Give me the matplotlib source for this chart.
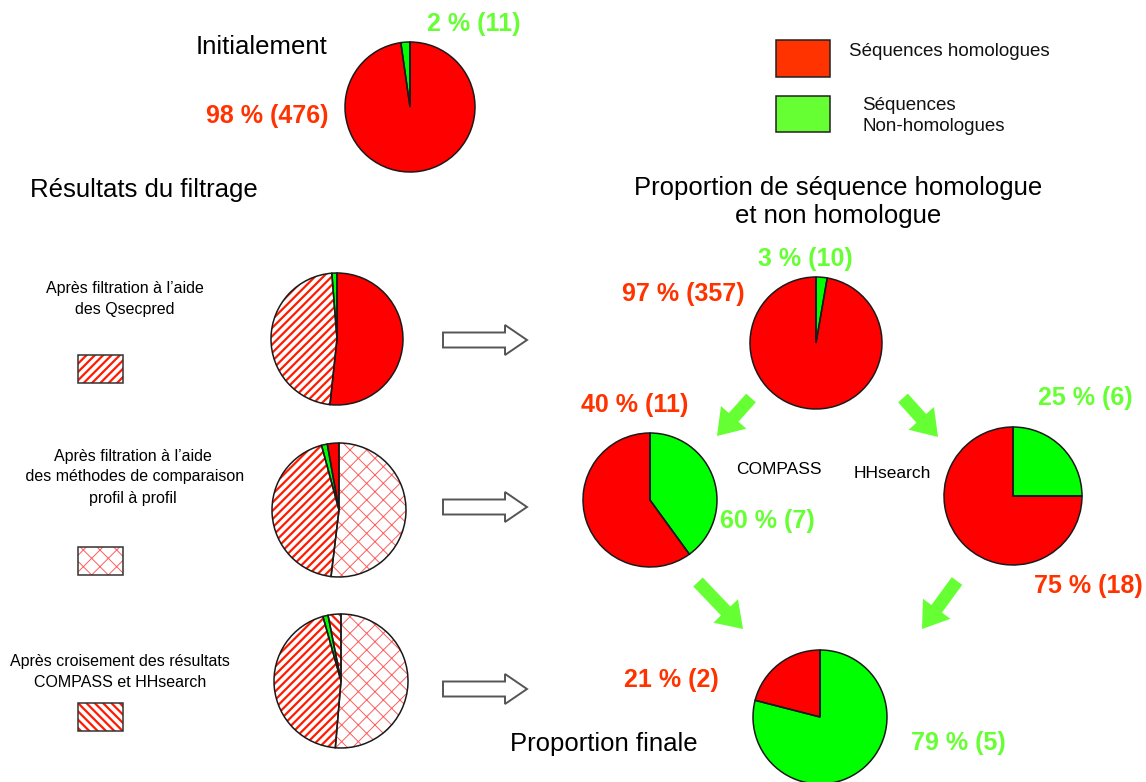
import matplotlib
matplotlib.use("Agg")
import matplotlib.pyplot as plt
from matplotlib.patches import Rectangle, FancyArrow

# ---------------- data ----------------
initial_values = [11, 476]                 # green, red (ccw from top)
initial_styles = ['green', 'red']
initial_labels = ['2 % (11)', '98 % (476)']

qsec_values = [51.7, 47.05, 1.25]          # clockwise from top
qsec_styles = ['red', 'fwd', 'green']

profile_values = [2.8, 1.4, 43.9, 51.9]    # ccw from top
profile_styles = ['red', 'green', 'fwd', 'cross']

cross_values = [3.1, 1.25, 44.3, 51.35]    # ccw from top
cross_styles = ['back', 'green', 'fwd', 'cross']

top_values = [10, 357]                     # green, red (clockwise)
top_labels = ['3 % (10)', '97 % (357)']

compass_values = [40, 60]                  # green, red (clockwise)
compass_labels = ['40 % (11)', '60 % (7)']

hhsearch_values = [25, 75]                 # green, red (clockwise)
hhsearch_labels = ['25 % (6)', '75 % (18)']

final_values = [21, 79]                    # red, green (ccw)
final_labels = ['21 % (2)', '79 % (5)']

legend_labels = ['Séquences homologues', 'Séquences\nNon-homologues']
step_labels = ["Après filtration à l’aide\ndes Qsecpred",
               "Après filtration à l’aide\n des méthodes de comparaison\nprofil à profil",
               "Après croisement des résultats\nCOMPASS et HHsearch"]

# ---------------- style ----------------
W, H = 1146, 782
plt.rcParams['font.family'] = ['Liberation Sans', 'DejaVu Sans']
plt.rcParams['hatch.linewidth'] = 1.6

RED = '#ff0000'
GREEN = '#00ff00'
LRED = '#ff3300'
LGREEN = '#66ff33'
HRED = '#ff1a00'
XRED = '#ff5c5c'

fig = plt.figure(figsize=(W / 100, H / 100), dpi=100)
ax = fig.add_axes([0, 0, 1, 1])


def Y(py):
    return H - py


def style_patch(p, st):
    if st == 'red':
        p.set_facecolor(RED); p.set_edgecolor(RED)
    elif st == 'green':
        p.set_facecolor(GREEN); p.set_edgecolor(GREEN)
    elif st in ('fwd', 'back'):
        p.set_facecolor('white'); p.set_edgecolor(HRED)
        p.set_hatch('////' if st == 'fwd' else '\\\\\\\\')
    elif st == 'cross':
        p.set_facecolor('white'); p.set_edgecolor(XRED)
        p.set_hatch('xx')
        if hasattr(p, 'set_hatch_linewidth'):
            p.set_hatch_linewidth(0.7)
    p.set_linewidth(0)


def draw_pie(values, styles, cx, cy, r, counterclock):
    wedges, _ = ax.pie(values, center=(cx, Y(cy)), radius=r, startangle=90,
                       counterclock=counterclock, frame=True,
                       wedgeprops=dict(linewidth=0))
    for w, st in zip(wedges, styles):
        style_patch(w, st)
    ax.pie(values, center=(cx, Y(cy)), radius=r, startangle=90,
           counterclock=counterclock, frame=True,
           wedgeprops=dict(facecolor='none', edgecolor='#1a1a1a', linewidth=1.1))


# pies
draw_pie(initial_values, initial_styles, 410, 107, 65, True)
draw_pie(qsec_values, qsec_styles, 337, 339, 66, False)
draw_pie(profile_values, profile_styles, 339, 510, 67, True)
draw_pie(cross_values, cross_styles, 341, 681, 67, True)
draw_pie(top_values, ['green', 'red'], 816, 343, 66, False)
draw_pie(compass_values, ['green', 'red'], 650, 500, 67, False)
draw_pie(hhsearch_values, ['green', 'red'], 1013, 496, 69, False)
draw_pie(final_values, ['red', 'green'], 820, 717, 67, True)

# hatched legend boxes on the left
for (bx, by), st in zip([(78, 355), (78, 547), (78, 703)], ['fwd', 'cross', 'back']):
    rect = Rectangle((bx, Y(by + 28)), 45, 28)
    style_patch(rect, st)
    ax.add_patch(rect)
    ax.add_patch(Rectangle((bx, Y(by + 28)), 45, 28, fc='none', ec='#333333', lw=1.1))

# colour legend top right
ax.add_patch(Rectangle((776, Y(77)), 54, 37, fc=LRED, ec='#222222', lw=1.1))
ax.add_patch(Rectangle((776, Y(132)), 54, 36, fc=LGREEN, ec='#222222', lw=1.1))
ax.text(849, Y(51), legend_labels[0], fontsize=13.5, ha='left', va='center', color='#111111')
ax.text(862, Y(116), legend_labels[1], fontsize=13.5, ha='left', va='center',
        color='#111111', linespacing=1.25)

# hollow arrows
for ay in [340, 507, 689]:
    ax.add_patch(FancyArrow(443, Y(ay), 84, 0, width=15, head_width=30, head_length=22,
                            length_includes_head=True, fc='white', ec='#555555', lw=1.4))

# green arrows
for (tx, ty), (hx, hy) in [((751, 398), (717, 436)), ((903, 398), (938, 437)),
                           ((698, 582), (743, 629)), ((957, 581), (922, 629))]:
    ax.add_patch(FancyArrow(tx, Y(ty), hx - tx, -(hy - ty), width=13, head_width=34,
                            head_length=25, length_includes_head=True, fc=LGREEN, lw=0))

# titles
ax.text(262, Y(47), 'Initialement', fontsize=18.5, ha='center', va='center')
ax.text(144, Y(190), 'Résultats du filtrage', fontsize=18.5, ha='center', va='center')
ax.text(838, Y(202), 'Proportion de séquence homologue\net non homologue', fontsize=18.5,
        ha='center', va='center', linespacing=1.2)
ax.text(604, Y(744), 'Proportion finale', fontsize=18.5, ha='center', va='center')
ax.text(779, Y(470), 'COMPASS', fontsize=12.5, ha='center', va='center')
ax.text(892, Y(473), 'HHsearch', fontsize=12.5, ha='center', va='center')

# left step texts
ax.text(125, Y(299), step_labels[0], fontsize=11.5, ha='center', va='center', linespacing=1.5)
ax.text(133, Y(477), step_labels[1], fontsize=11.5, ha='center', va='center', linespacing=1.5)
ax.text(120, Y(672), step_labels[2], fontsize=11.5, ha='center', va='center', linespacing=1.5)

# pie labels
def lab(x, y, s, c):
    ax.text(x, Y(y), s, fontsize=18, fontweight='bold', ha='center', va='center', color=c)

lab(474, 24, initial_labels[0], LGREEN)
lab(267, 116, initial_labels[1], LRED)
lab(805, 259, top_labels[0], LGREEN)
lab(683, 294, top_labels[1], LRED)
lab(635, 405, compass_labels[0], LRED)
lab(767, 521, compass_labels[1], LGREEN)
lab(1085, 398, hhsearch_labels[0], LGREEN)
lab(1088, 586, hhsearch_labels[1], LRED)
lab(671, 680, final_labels[0], LRED)
lab(958, 743, final_labels[1], LGREEN)

ax.set_xlim(0, W)
ax.set_ylim(0, H)
ax.set_aspect('auto')
ax.axis('off')
fig.savefig('out.png', dpi=100, facecolor='white')
